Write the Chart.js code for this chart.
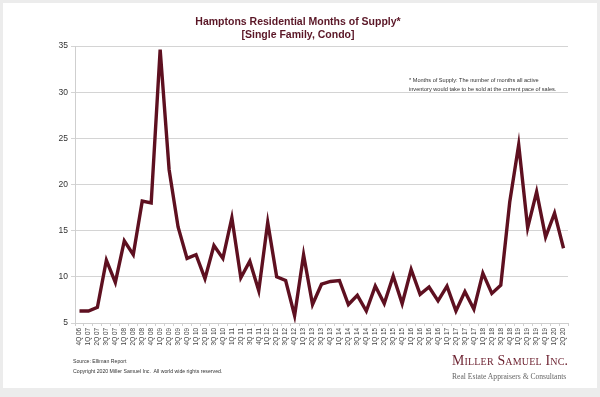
<!DOCTYPE html>
<html>
<head>
<meta charset="utf-8">
<script src="https://cdn.jsdelivr.net/npm/chart.js@4/dist/chart.umd.min.js"></script>
<style>
  body { margin: 0; background: #ececec; width: 600px; height: 397px; overflow: hidden; font-family: "Liberation Sans", Arial, sans-serif; }
  #card { position: absolute; left: 3px; top: 3px; width: 594px; height: 385px; background: #fff; }
  #wrap { position: absolute; left: 0; top: 0; width: 600px; height: 397px; }
  .txt { position: absolute; white-space: nowrap; }
  #title { left: 0; width: 596px; top: 15px; text-align: center; font-weight: bold; font-size: 10.5px; line-height: 13px; color: #5a1626; }
  #note { left: 409px; top: 76px; font-size: 5.6px; line-height: 8.5px; color: #333; }
  #source { left: 73px; top: 356px; font-size: 5.2px; line-height: 10px; color: #333; }
  #logo { left: 452px; top: 353px; font-family: "Liberation Serif", "DejaVu Serif", serif; color: #6b1f2e; font-size: 13.8px; font-variant: small-caps; letter-spacing: 0.2px; }
  #tag { left: 452px; top: 372px; font-family: "Liberation Serif", "DejaVu Serif", serif; color: #666; font-size: 7.6px; }
</style>
</head>
<body>
<div id="card"></div>
<div id="wrap"><canvas id="supplyChart" width="600" height="397"></canvas></div>
<div class="txt" id="title">Hamptons Residential Months of Supply*<br>[Single Family, Condo]</div>
<div class="txt" id="note">* Months of Supply: The number of months all active<br>inventory would take to be sold at the current pace of sales.</div>
<div class="txt" id="source">Source: Elliman Report<br>Copyright 2020 Miller Samuel Inc.&nbsp; All world wide rights reserved.</div>
<div class="txt" id="logo">Miller Samuel Inc.</div>
<div class="txt" id="tag">Real Estate Appraisers &amp; Consultants</div>
<script>
const quarters = [
  "4Q 06",
  "1Q 07", "2Q 07", "3Q 07", "4Q 07",
  "1Q 08", "2Q 08", "3Q 08", "4Q 08",
  "1Q 09", "2Q 09", "3Q 09", "4Q 09",
  "1Q 10", "2Q 10", "3Q 10", "4Q 10",
  "1Q 11", "2Q 11", "3Q 11", "4Q 11",
  "1Q 12", "2Q 12", "3Q 12", "4Q 12",
  "1Q 13", "2Q 13", "3Q 13", "4Q 13",
  "1Q 14", "2Q 14", "3Q 14", "4Q 14",
  "1Q 15", "2Q 15", "3Q 15", "4Q 15",
  "1Q 16", "2Q 16", "3Q 16", "4Q 16",
  "1Q 17", "2Q 17", "3Q 17", "4Q 17",
  "1Q 18", "2Q 18", "3Q 18", "4Q 18",
  "1Q 19", "2Q 19", "3Q 19", "4Q 19",
  "1Q 20", "2Q 20"
];

const monthsOfSupply = [
  6.3, 6.3, 6.7, 11.8, 9.4, 13.9, 12.4, 18.2, 18.0, 34.6,
  21.6, 15.4, 12.0, 12.4, 9.8, 13.4, 12.0, 16.4, 9.9, 11.7,
  8.5, 15.9, 10.0, 9.6, 5.8, 12.4, 7.0, 9.2, 9.5, 9.6,
  7.0, 8.0, 6.3, 9.0, 7.1, 10.1, 7.1, 10.8, 8.1, 8.9,
  7.4, 9.0, 6.3, 8.4, 6.5, 10.4, 8.2, 9.1, 18.1, 24.3,
  15.3, 19.2, 14.3, 16.9, 13.1
];

const yTicks = [5, 10, 15, 20, 25, 30, 35];

const ctx = document.getElementById("supplyChart").getContext("2d");
new Chart(ctx, {
  type: "line",
  data: {
    labels: quarters,
    datasets: [
      {
        label: "Months of Supply",
        data: monthsOfSupply,
        borderColor: "#5e1020",
        borderWidth: 3.4,
        pointRadius: 0,
        tension: 0,
        fill: false,
      },
    ],
  },
  options: {
    responsive: false,
    animation: false,
    layout: { padding: { left: 0, top: 46, right: 32, bottom: 0 } },
    plugins: {
      legend: { display: false },
      tooltip: { enabled: false },
    },
    scales: {
      y: {
        min: yTicks[0],
        max: yTicks[yTicks.length - 1],
        afterBuildTicks: (scale) => {
          scale.ticks = yTicks.map((v) => ({ value: v }));
        },
        afterFit: (scale) => { scale.width = 75; },
        ticks: { color: "#333", font: { size: 8.5, family: "Liberation Sans" }, padding: 3 },
        grid: { color: "#d4d4d4", lineWidth: 1, tickLength: 4 },
        border: { color: "#cfcfcf" },
      },
      x: {
        offset: true,
        afterFit: (scale) => { scale.height = 74; },
        ticks: {
          autoSkip: false,
          minRotation: 90,
          maxRotation: 90,
          color: "#444",
          padding: 2,
          font: { size: 6.4, family: "Liberation Sans" },
        },
        grid: { drawOnChartArea: false, color: "#cfcfcf", tickLength: 3, offset: true },
        border: { color: "#cfcfcf" },
      },
    },
  },
});
</script>
</body>
</html>
